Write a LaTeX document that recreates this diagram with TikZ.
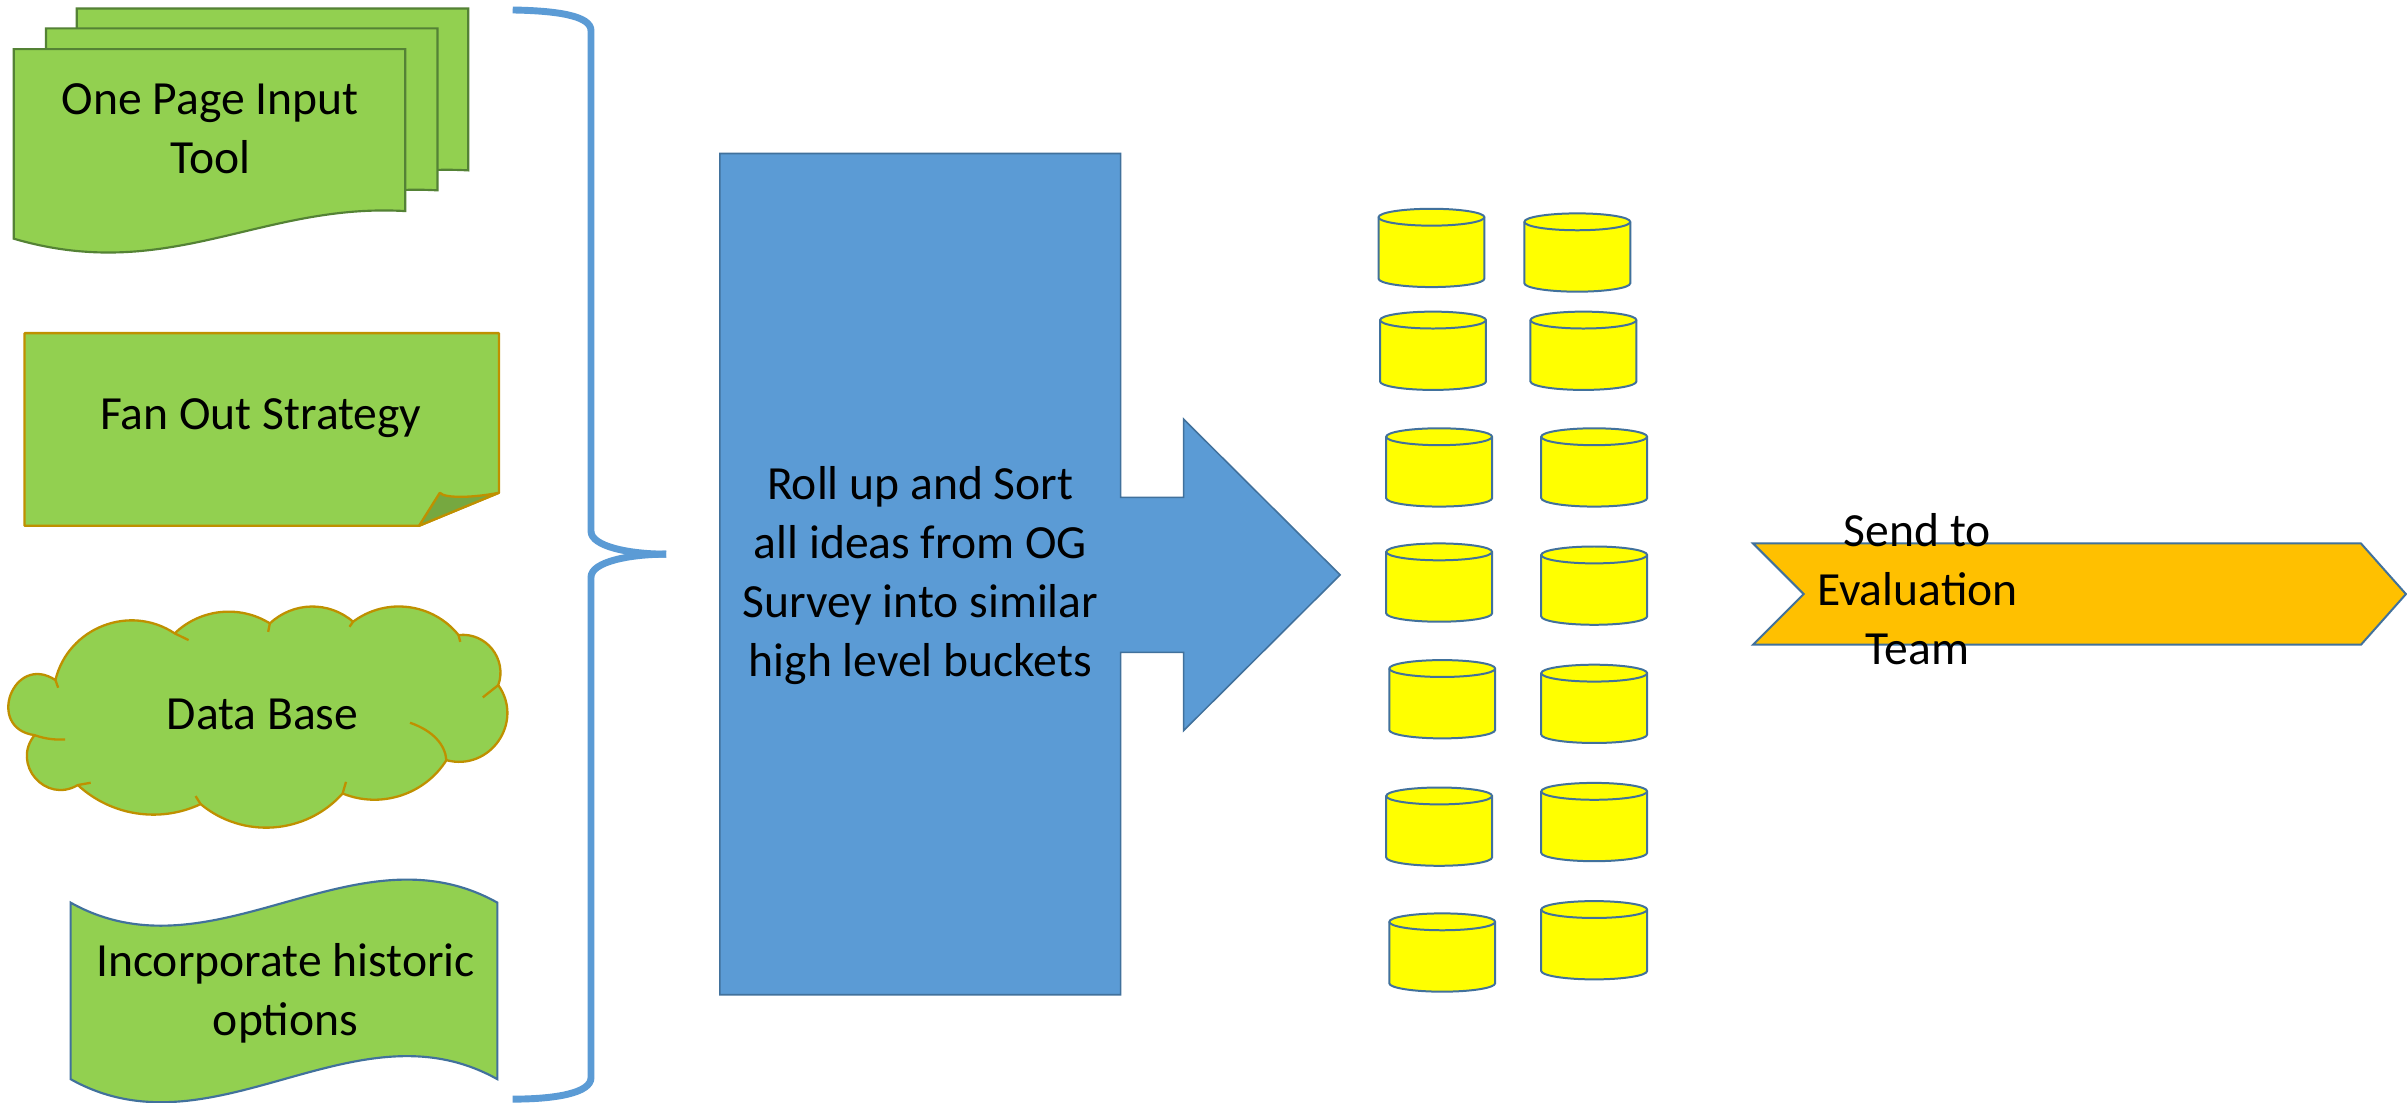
\documentclass[tikz,border=0pt]{standalone}
\usepackage{fontspec}
\setmainfont{Carlito}
\definecolor{leafgreen}{HTML}{92D050}
\definecolor{docline}{HTML}{548235}
\definecolor{goldline}{HTML}{BF9000}
\definecolor{foldgreen}{HTML}{76A840}
\definecolor{steel}{HTML}{41719C}
\definecolor{skyblue}{HTML}{5B9BD5}
\definecolor{amber}{HTML}{FFC000}
\definecolor{canyellow}{HTML}{FFFF00}
\tikzset{
  docshape/.style={fill=leafgreen, draw=docline, line width=1.4},
  goldshape/.style={fill=leafgreen, draw=goldline, line width=1.5, line join=round},
  cloudline/.style={draw=goldline, line width=1.5},
  canbody/.style={fill=canyellow, draw=steel, line width=1.3},
  canedge/.style={draw=steel, line width=1.3},
  lbl/.style={font=\fontsize{31}{38.5}\selectfont, align=center, inner sep=0pt, text=black},
}
\newcommand\drawcan[3]{%
  \path[canbody] (#2,#3+5.5) -- (#2,#3+45.5)
     arc[start angle=180,end angle=0,x radius=34.5,y radius=5.5]
     -- (#2+69,#3+5.5)
     arc[start angle=0,end angle=-180,x radius=34.5,y radius=5.5] -- cycle;
  \draw[canedge] (#2,#3+5.5) arc[start angle=180,end angle=0,x radius=34.5,y radius=5.5];
  \coordinate (#1) at (#2+34.5,#3+25.5);
}
\begin{document}
\begin{tikzpicture}[x=1pt,y=-1pt]
\fill[white] (0,0) rectangle (1568,718);
\useasboundingbox (0,0) rectangle (1568,718);

% brace
\draw[skyblue, line width=4.5] (334,6.5) .. controls (362,7) and (385,10) .. (385,20)
  -- (385,346) .. controls (385,356) and (410,361) .. (434,361);
\draw[skyblue, line width=4.5] (434,361) .. controls (410,361) and (385,366) .. (385,376)
  -- (385,702) .. controls (385,712) and (362,716) .. (334,716);

% multi document
\path[docshape] (50,5.5) -- (305,5.5) -- (305,111) .. controls (211,105.5) and (151,158.5) .. (50,129) -- cycle;
\path[docshape] (30,18.5) -- (285,18.5) -- (285,124) .. controls (191,118.5) and (131,171.5) .. (30,142) -- cycle;
\path[docshape] (9,32) -- (264,32) -- (264,137.5) .. controls (170,132) and (110,185) .. (9,155.5) -- cycle;
\node[lbl] (opit) at (137,84) {One Page Input\\Tool};

% folded corner note
\path[goldshape] (16,217) -- (325,217) -- (325,321) -- (273,342.5) -- (16,342.5) -- cycle;
\path[goldshape, fill=foldgreen] (273,342.5) -- (286.5,321) .. controls (290,325) and (310,324) .. (325,321) -- cycle;
\node[lbl, anchor=base] (fan) at (170,280) {Fan Out Strategy};

% cloud
\path[goldshape] (36.1,443.0)
 to[bend right=102.7, looseness=2.18] (22.5,478.9)
 to[bend right=79.8, looseness=1.45] (50.7,511.4)
 to[bend right=34, looseness=0.93] (130.7,523.8)
 to[bend right=44, looseness=0.99] (223.2,516.9)
 to[bend right=40, looseness=0.96] (290.8,495.2)
 to[bend right=70, looseness=1.27] (324.6,446.3)
 to[bend right=58, looseness=1.11] (298.7,413.7)
 to[bend right=44, looseness=0.99] (230,405)
 to[bend right=42, looseness=0.98] (175.8,406.1)
 to[bend right=38, looseness=0.95] (113.8,412.6)
 to[bend right=55, looseness=1.08] (36.1,443.0) -- cycle;
\draw[cloudline] (36.1,443.0) -- (37.9,448);
\draw[cloudline] (22.5,478.9) .. controls (30,481.5) and (36,482) .. (42.4,481.7);
\draw[cloudline] (50.7,511.4) -- (59.1,509.9);
\draw[cloudline] (130.7,523.8) -- (127.4,518.6);
\draw[cloudline] (223.2,516.9) -- (225.4,509.3);
\draw[cloudline] (267.1,470.8) .. controls (282,476) and (290,485) .. (290.8,495.2);
\draw[cloudline] (324.6,446.3) -- (314.5,454.3);
\draw[cloudline] (298.7,413.7) -- (299.8,418.1);
\draw[cloudline] (230,405) -- (227.7,408.3);
\draw[cloudline] (175.8,406.1) -- (174.7,411.6);
\draw[cloudline] (113.8,412.6) -- (122.9,417);
\node[lbl, anchor=base] (db) at (171,475.5) {Data Base};

% wave
\path[fill=leafgreen, draw=steel, line width=1.4] (46,588) .. controls (139,640) and (231,536) .. (324,588)
  -- (324,703) .. controls (231,651) and (139,755) .. (46,703) -- cycle;
\node[lbl] (hist) at (186,647) {Incorporate historic\\options};

% big blue arrow callout
\path[fill=skyblue, draw=steel, line width=1] (469,100) -- (730,100) -- (730,324) -- (771,324) -- (771,273)
  -- (873,374.5) -- (771,476) -- (771,425) -- (730,425) -- (730,648) -- (469,648) -- cycle;
\node[lbl] (roll) at (599.5,375) {Roll up and Sort\\all ideas from OG\\Survey into similar\\high level buckets};

% buckets
\drawcan{cL1}{898}{136}
\drawcan{cL2}{899}{203}
\drawcan{cL3}{903}{279}
\drawcan{cL4}{903}{354}
\drawcan{cL5}{905}{430}
\drawcan{cL6}{903}{513}
\drawcan{cL7}{905}{595}
\drawcan{cR1}{993}{139}
\drawcan{cR2}{997}{203}
\drawcan{cR3}{1004}{279}
\drawcan{cR4}{1004}{356}
\drawcan{cR5}{1004}{433}
\drawcan{cR6}{1004}{510}
\drawcan{cR7}{1004}{587}

% chevron
\path[fill=amber, draw=steel, line width=1.3] (1142,354) -- (1538,354) -- (1567.3,387) -- (1538,420)
  -- (1142,420) -- (1175,387) -- cycle;
\node[lbl] (send) at (1249,384) {Send to\\Evaluation\\Team};
\end{tikzpicture}
\end{document}
